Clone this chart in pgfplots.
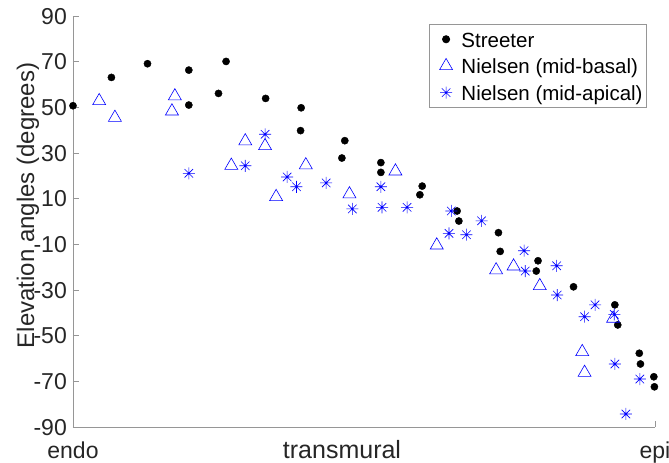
\documentclass[border=0pt]{standalone}
\usepackage{fontspec}
\setmainfont{Liberation Sans}
\usepackage{pgfplots}
\pgfplotsset{compat=1.18}
\definecolor{axgray}{RGB}{150,150,150}
\definecolor{txt}{RGB}{38,38,38}
\pgfdeclareplotmark{mstar}{%
  \pgfpathmoveto{\pgfqpoint{0pt}{\pgfplotmarksize}}\pgfpathlineto{\pgfqpoint{0pt}{-\pgfplotmarksize}}%
  \pgfpathmoveto{\pgfqpoint{\pgfplotmarksize}{0pt}}\pgfpathlineto{\pgfqpoint{-\pgfplotmarksize}{0pt}}%
  \pgfpathmoveto{\pgfqpoint{0.7071\pgfplotmarksize}{0.7071\pgfplotmarksize}}\pgfpathlineto{\pgfqpoint{-0.7071\pgfplotmarksize}{-0.7071\pgfplotmarksize}}%
  \pgfpathmoveto{\pgfqpoint{-0.7071\pgfplotmarksize}{0.7071\pgfplotmarksize}}\pgfpathlineto{\pgfqpoint{0.7071\pgfplotmarksize}{-0.7071\pgfplotmarksize}}%
  \pgfusepathqstroke}
\begin{document}
\begin{tikzpicture}
\useasboundingbox (-73bp,-36bp) rectangle (596bp,427bp);
\begin{axis}[
  at={(0,0)}, anchor=south west,
  scale only axis, width=582bp, height=411bp,
  xmin=0, xmax=100, ymin=-90, ymax=90,
  axis lines*=left,
  axis line style={axgray, line width=0.8bp},
  tick align=inside,
  major tick length=6bp,
  tick style={axgray, line width=0.8bp},
  xtick={0,100}, xticklabels={endo,epi},
  ytick={-90,-70,-50,-30,-10,10,30,50,70,90},
  yticklabels={-90,-70,-50,-30,-10,10,30,50,70,90},
  xticklabel style={font=\fontsize{23bp}{27bp}\selectfont, text=txt, inner sep=0pt, anchor=base, yshift=-31bp},
  yticklabel style={font=\fontsize{23bp}{27bp}\selectfont, text=txt, inner sep=0pt, anchor=east, xshift=-6bp, text height=16.4bp, text depth=0pt},
  legend cell align=left,
  legend image code/.code={\path (-12bp,0bp) (8bp,0bp); \draw[mark repeat=2,mark phase=2,#1] plot coordinates {(-8bp,0bp) (0bp,0bp) (8bp,0bp)};},
  legend style={at={(rel axis cs:0.9863,0.9805)}, anchor=north east,
    draw=axgray, line width=0.8bp, inner xsep=4bp, inner ysep=0bp,
    row sep=-3.03bp, column sep=7bp,
    font=\fontsize{20.5bp}{24bp}\selectfont,
    nodes={inner sep=0pt, text height=22.7bp, text depth=7bp}},
]
\addplot[only marks, mark=*, mark size=3.6bp, black, mark options={fill=black, draw=black}] coordinates {
(0,50.7) (6.6,63.1) (12.8,69.1) (19.9,66.3) (19.9,51.0) (25.0,56.1) (26.3,70.1)
(33.1,53.9) (39.2,49.8) (39.1,39.8) (46.7,35.4) (46.2,27.8) (52.9,25.8) (52.9,21.5)
(60.0,15.5) (59.6,11.7) (66.0,4.6) (66.3,0.2) (73.1,-4.9) (73.4,-13.1) (79.9,-17.2)
(79.6,-21.7) (86.0,-28.6) (93.1,-36.5) (93.6,-45.3) (97.3,-57.7) (97.5,-62.4)
(99.8,-68.0) (99.9,-72.4)};
\addlegendentry{Streeter}
\addplot[only marks, mark=triangle, mark size=7.5bp, blue, mark options={draw=blue, line width=0.6bp}] coordinates {
(4.5,52.8) (7.2,45.5) (17.5,54.9) (17.0,48.3) (29.6,35.2) (27.2,24.5) (33.0,33.1)
(34.9,10.8) (40.0,24.7) (47.5,12.0) (55.4,22.0) (62.5,-10.4) (72.7,-21.3) (75.7,-19.6)
(80.2,-28.2) (92.8,-42.5) (87.5,-57.1) (87.9,-66.2)};
\addlegendentry{Nielsen (mid-basal)}
\addplot[only marks, mark=mstar, mark size=6bp, blue, mark options={draw=blue, line width=0.6bp}] coordinates {
(19.9,21.1) (29.6,24.4) (33.0,38.2) (36.8,19.5) (38.4,15.2) (43.5,16.9) (48.0,5.5)
(52.9,15.2) (53.1,6.2) (57.4,6.2) (65.0,4.6) (64.6,-5.2) (67.6,-5.8) (70.2,0.3)
(77.5,-12.8) (77.7,-21.7) (83.1,-19.4) (83.2,-32.2) (89.7,-36.5) (87.9,-41.7)
(93.0,-40.7) (93.1,-62.4) (97.4,-69.0) (95.0,-84.3)};
\addlegendentry{Nielsen (mid-apical)}
\end{axis}
\node[anchor=base, text=txt, font=\fontsize{25bp}{30bp}\selectfont, inner sep=0pt] at (269bp,-31bp) {transmural};
\node[rotate=90, anchor=base, text=txt, font=\fontsize{24bp}{28bp}\selectfont, inner sep=0pt] at (-39bp,221.5bp) {Elevation angles (degrees)};
\end{tikzpicture}
\end{document}
